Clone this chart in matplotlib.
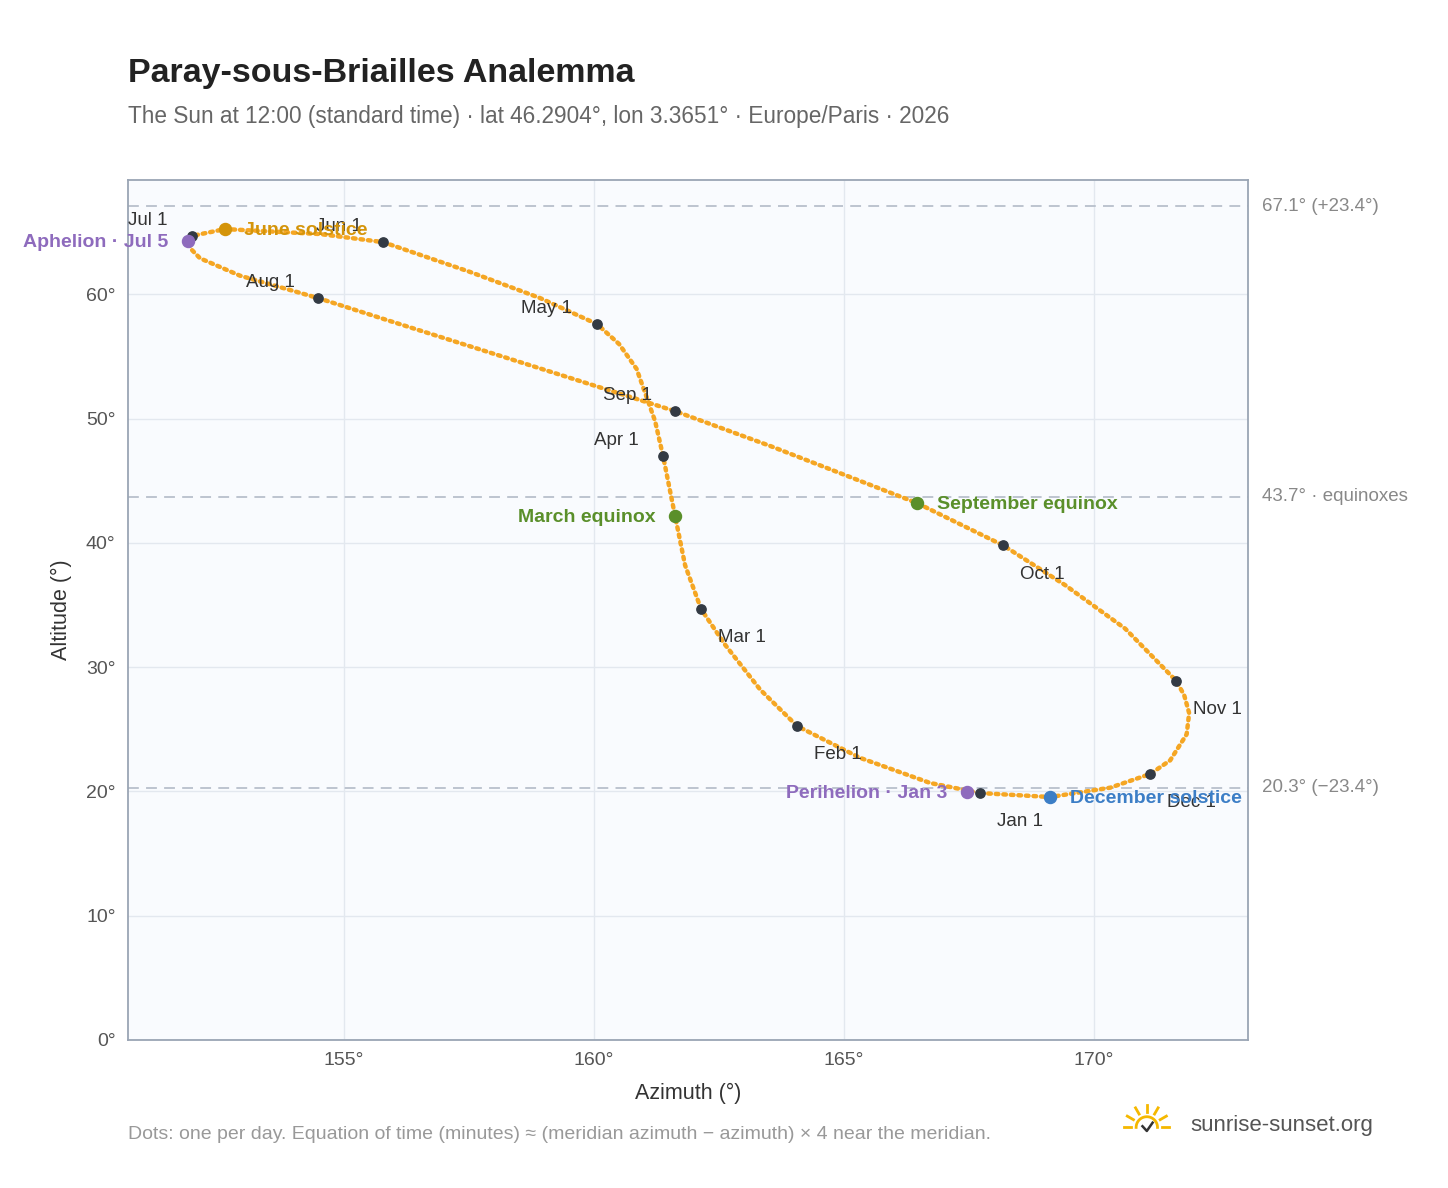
import matplotlib
matplotlib.use("Agg")
import matplotlib.pyplot as plt
import numpy as np

plt.rcParams['font.family'] = ['Liberation Sans', 'DejaVu Sans']

# Path samples (azimuth, altitude)
path_az = [167.72,166.72,165.32,164.06,163.32,162.62,162.14,161.82,161.62,161.38,161.22,160.85,160.5,
           160.06,158.92,157.52,155.78,154.52,152.62,151.96,151.88,151.95,152.12,152.92,154.48,155.92,
           158.32,161.62,163.52,166.46,168.18,169.42,170.62,171.64,171.80,171.90,171.85,171.52,171.12,
           170.32,169.12,168.02,167.72]
path_alt = [19.87,20.68,22.70,25.26,28.2,31.8,34.67,38.2,42.16,46.98,49.8,54.0,56.0,
            57.6,59.7,61.8,64.2,64.85,65.25,64.7,64.3,63.6,62.9,61.5,59.7,57.85,
            54.8,50.6,47.8,43.2,39.8,36.6,33.1,28.9,27.75,26.3,24.6,22.5,21.4,
            20.3,19.55,19.8,19.87]

months = ["Jan 1","Feb 1","Mar 1","Apr 1","May 1","Jun 1","Jul 1","Aug 1","Sep 1","Oct 1","Nov 1","Dec 1"]
month_az = [167.72,164.06,162.14,161.38,160.06,155.78,151.96,154.48,161.62,168.18,171.64,171.12]
month_alt = [19.87,25.26,34.67,46.98,57.6,64.2,64.7,59.7,50.6,39.8,28.9,21.4]
month_off = [(12,-24),(12,-24),(12,-24),(-50,8),(-55,8),(-48,8),(-46,8),(-52,8),(-52,8),(12,-24),(12,-24),(12,-24)]

events = ["June solstice","Aphelion · Jul 5","March equinox","September equinox","Perihelion · Jan 3","December solstice"]
ev_az = [152.62,151.88,161.62,166.46,167.46,169.12]
ev_alt = [65.25,64.3,42.16,43.2,19.95,19.55]
ev_col = ["#d4940a","#8e6bbd","#5a8f2a","#5a8f2a","#8e6bbd","#3c7ec6"]
ev_ha = ["left","right","right","left","right","left"]

ref_alt = [67.1, 43.7, 20.3]
ref_lab = ["67.1° (+23.4°)", "43.7° · equinoxes", "20.3° (−23.4°)"]

fig = plt.figure(figsize=(14.48, 11.88), dpi=100)
ax = fig.add_axes([0.0884, 0.1246, 0.7736, 0.7239])
ax.set_facecolor("#f9fbfe")
ax.set_xlim(150.68, 173.08)
ax.set_ylim(0, 69.2)
ax.set_xticks([155,160,165,170])
ax.set_xticklabels([f"{v}°" for v in [155,160,165,170]])
ax.set_yticks(range(0,70,10))
ax.set_yticklabels([f"{v}°" for v in range(0,70,10)])
ax.grid(color="#e3e8ef", lw=1)
ax.set_axisbelow(True)
for s in ax.spines.values():
    s.set_color("#9aa5b4"); s.set_linewidth(1.3)
ax.tick_params(colors="#555", labelsize=14, length=0, pad=9)

for a, l in zip(ref_alt, ref_lab):
    ax.axhline(a, color="#b8c0cc", ls=(0,(6,4)), lw=1.3, clip_on=False)
    ax.annotate(l, (1, a), xycoords=("axes fraction", "data"), xytext=(10, 0),
                textcoords="offset points", va="center", fontsize=13.5, color="#888")

ax.plot(path_az, path_alt, color="#f5a623", lw=3.2, ls=(0,(0.6,1.1)), dash_capstyle="round", zorder=3)
ax.scatter(month_az, month_alt, s=45, color="#333a44", zorder=5)
for m, x, y, o in zip(months, month_az, month_alt, month_off):
    ax.annotate(m, (x, y), xytext=o, textcoords="offset points", fontsize=13.5, color="#333", zorder=6)
for e, x, y, c, ha in zip(events, ev_az, ev_alt, ev_col, ev_ha):
    ax.scatter([x], [y], s=75, color=c, zorder=6)
    ax.annotate(e, (x, y), xytext=(14 if ha == "left" else -14, -1), textcoords="offset points",
                ha=ha, va="center", fontsize=14, color=c, fontweight="bold", zorder=7, annotation_clip=False)

ax.set_xlabel("Azimuth (°)", fontsize=15.5, color="#333", labelpad=10)
ax.set_ylabel("Altitude (°)", fontsize=15.5, color="#333", labelpad=10)

fig.text(0.0884, 0.925, "Paray-sous-Briailles Analemma", fontsize=24.5, fontweight="bold", color="#222", va="bottom")
fig.text(0.0884, 0.902, "The Sun at 12:00 (standard time) · lat 46.2904°, lon 3.3651° · Europe/Paris · 2026",
         fontsize=16.3, color="#666", va="center")
fig.text(0.0884, 0.045, "Dots: one per day. Equation of time (minutes) ≈ (meridian azimuth − azimuth) × 4 near the meridian.",
         fontsize=14, color="#999", va="center")
fig.text(0.822, 0.053, "sunrise-sunset.org", fontsize=16, color="#555", va="center")
# simple sun logo
lx, ly = 0.792, 0.051
th = np.linspace(0, np.pi, 30)
fig.add_artist(plt.Line2D(lx + 0.009*np.cos(th)*1188/1448, ly + 0.009*np.sin(th), color="#f5b800", lw=2, transform=fig.transFigure))
for ang in np.linspace(0, np.pi, 7):
    fig.add_artist(plt.Line2D([lx + 0.013*np.cos(ang)*1188/1448, lx + 0.019*np.cos(ang)*1188/1448],
                              [ly + 0.013*np.sin(ang), ly + 0.019*np.sin(ang)], color="#f5b800", lw=2, transform=fig.transFigure))
fig.add_artist(plt.Line2D([lx-0.003, lx, lx+0.004], [ly+0.001, ly-0.003, ly+0.004], color="#333", lw=1.8, transform=fig.transFigure))

fig.savefig("out.png", dpi=100)
